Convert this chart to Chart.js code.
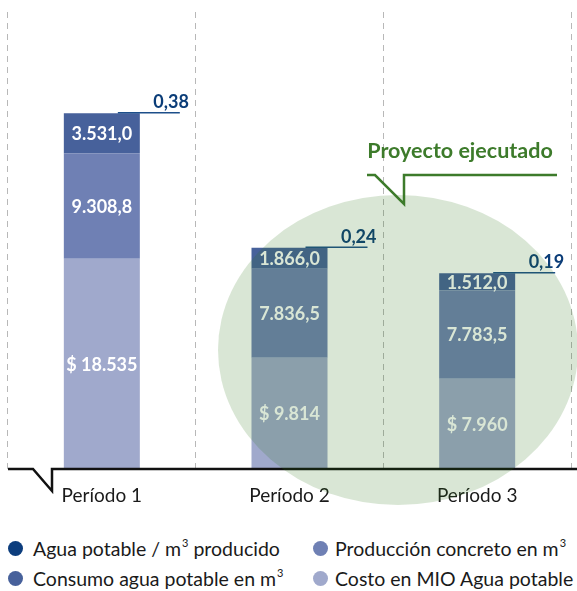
<!DOCTYPE html>
<html>
<head>
  <meta charset="utf-8">
  <title>Proyecto ejecutado</title>
  <script src="https://cdn.jsdelivr.net/npm/chart.js"></script>
  <style>
    body { margin: 0; background: #fff; font-family: Lato, sans-serif; }
    #wrap { position: relative; width: 577px; height: 591px; }
    #chart { position: absolute; left: 0; top: 0; }
    .leg { position: absolute; font-size: 19.5px; color: #1a1a1a; white-space: nowrap; line-height: 20px; }
    .leg sup { font-size: 11px; position: relative; top: -6px; vertical-align: top; margin-left: 1px; }
    .dot { position: absolute; width: 15px; height: 15px; border-radius: 50%; }
  </style>
</head>
<body>
  <div id="wrap">
    <canvas id="chart" width="577" height="520"></canvas>

    <div class="dot" style="left:8px; top:541px; background:#0c3d7d"></div>
    <div class="leg" style="left:33px; top:539px">Agua potable / m<sup>3</sup> producido</div>
    <div class="dot" style="left:313px; top:541px; background:#6f80b4"></div>
    <div class="leg" style="left:335px; top:539px">Producción concreto en m<sup>3</sup></div>

    <div class="dot" style="left:8px; top:571px; background:#47619b"></div>
    <div class="leg" style="left:33px; top:569px">Consumo agua potable en m<sup>3</sup></div>
    <div class="dot" style="left:313px; top:571px; background:#a0a9cc"></div>
    <div class="leg" style="left:335px; top:569px">Costo en MIO Agua potable</div>
  </div>

  <script>
    // datos del gráfico
    const periodos = ['Período 1', 'Período 2', 'Período 3'];
    const costoMIO = [18535, 9814, 7960];
    const produccionConcreto = [9308.8, 7836.5, 7783.5];
    const consumoAgua = [3531.0, 1866.0, 1512.0];
    const aguaPorM3 = [0.38, 0.24, 0.19];

    // formato con punto de miles y coma decimal
    function fmt(v, dec) {
      const parts = v.toFixed(dec).split('.');
      parts[0] = parts[0].replace(/\B(?=(\d{3})+(?!\d))/g, '.');
      return parts.join(',');
    }

    const etiquetas = {
      id: 'etiquetas',
      afterDatasetsDraw(chart) {
        const ctx = chart.ctx;
        const x = chart.scales.x, y = chart.scales.y;

        // valores dentro de las barras
        ctx.save();
        ctx.font = 'bold 18px Lato';
        ctx.fillStyle = '#ffffff';
        ctx.textAlign = 'center';
        ctx.textBaseline = 'middle';
        chart.data.datasets.forEach((ds, di) => {
          chart.getDatasetMeta(di).data.forEach((bar, i) => {
            const txt = di === 0 ? '$ ' + fmt(ds.data[i], 0) : fmt(ds.data[i], 1);
            ctx.fillText(txt, bar.x, (bar.y + bar.base) / 2 + 1);
          });
        });

        // agua potable / m3 producido sobre cada barra
        ctx.font = 'bold 18px Lato';
        ctx.fillStyle = '#0b3d78';
        ctx.textAlign = 'right';
        ctx.textBaseline = 'alphabetic';
        ctx.strokeStyle = '#1d4f8a';
        ctx.lineWidth = 1.5;
        aguaPorM3.forEach((v, i) => {
          const cx = x.getPixelForValue(i);
          const top = y.getPixelForValue(costoMIO[i] + produccionConcreto[i] + consumoAgua[i]);
          ctx.beginPath();
          ctx.moveTo(cx + 16, top - 0.5);
          ctx.lineTo(cx + 78, top - 0.5);
          ctx.stroke();
          ctx.fillText(v.toFixed(2).replace('.', ','), cx + 87, top - 5);
        });

        // linea base con quiebre
        const base = chart.chartArea.bottom;
        ctx.strokeStyle = '#111';
        ctx.lineWidth = 2.5;
        ctx.lineJoin = 'miter';
        ctx.beginPath();
        ctx.moveTo(8, base);
        ctx.lineTo(33, base);
        ctx.lineTo(52, base + 22);
        ctx.lineTo(52, base);
        ctx.lineTo(577, base);
        ctx.stroke();

        // elipse "proyecto ejecutado"
        ctx.fillStyle = 'rgba(46, 118, 24, 0.18)';
        ctx.beginPath();
        ctx.ellipse(398, 350, 180, 155, 0, 0, Math.PI * 2);
        ctx.fill();

        // llamada
        ctx.strokeStyle = '#3d7b2b';
        ctx.lineWidth = 2.5;
        ctx.beginPath();
        ctx.moveTo(367, 175);
        ctx.lineTo(375, 175);
        ctx.lineTo(404, 204);
        ctx.lineTo(404, 175);
        ctx.lineTo(557, 175);
        ctx.stroke();
        ctx.font = 'bold 21.5px Lato';
        ctx.fillStyle = '#3d7b2b';
        ctx.textAlign = 'center';
        ctx.textBaseline = 'middle';
        ctx.fillText('Proyecto ejecutado', 460, 151);
        ctx.restore();
      }
    };

    new Chart(document.getElementById('chart').getContext('2d'), {
      type: 'bar',
      data: {
        labels: periodos,
        datasets: [{
          label: 'Costo en MIO Agua potable',
          data: costoMIO,
          backgroundColor: '#a0a9cc'
        }, {
          label: 'Producción concreto en m3',
          data: produccionConcreto,
          backgroundColor: '#6f80b4'
        }, {
          label: 'Consumo agua potable en m3',
          data: consumoAgua,
          backgroundColor: '#47619b'
        }]
      },
      options: {
        responsive: false,
        animation: false,
        layout: { padding: { left: 8, right: 6, top: 12, bottom: 0 } },
        datasets: { bar: { categoryPercentage: 1, barPercentage: 0.405 } },
        plugins: { legend: { display: false }, tooltip: { enabled: false } },
        scales: {
          x: {
            stacked: true,
            grid: { offset: true, color: '#b8b8b8', lineWidth: 1, drawTicks: false },
            border: { display: false, dash: [6, 5] },
            ticks: { color: '#1a1a1a', font: { family: 'Lato', size: 19 }, padding: 15 },
            afterFit(s) { s.height = 51; }
          },
          y: { stacked: true, display: false, min: 0, max: 40300 }
        }
      },
      plugins: [etiquetas]
    });
  </script>
</body>
</html>
